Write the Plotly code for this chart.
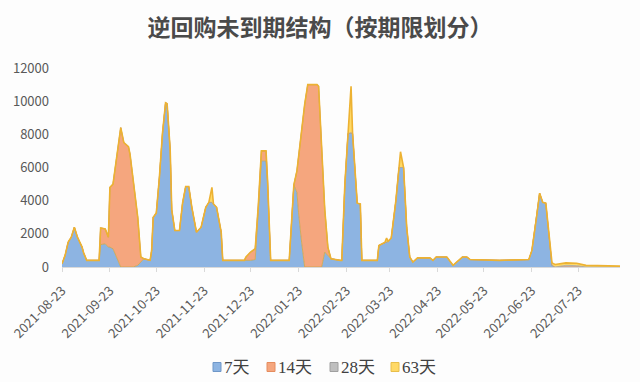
import plotly.graph_objects as go

# ---- data (亿元) ----
dates = [
    "2021-08-23", "2021-08-25", "2021-08-27", "2021-08-29", "2021-08-31", "2021-09-02",
    "2021-09-05", "2021-09-06", "2021-09-08", "2021-09-16", "2021-09-17", "2021-09-20",
    "2021-09-22", "2021-09-23", "2021-09-25", "2021-09-27", "2021-09-30", "2021-10-02",
    "2021-10-05", "2021-10-06", "2021-10-08", "2021-10-11", "2021-10-13", "2021-10-15",
    "2021-10-19", "2021-10-20", "2021-10-21", "2021-10-23", "2021-10-25", "2021-10-27",
    "2021-10-29", "2021-10-30", "2021-11-01", "2021-11-02", "2021-11-04", "2021-11-07",
    "2021-11-09", "2021-11-11", "2021-11-13", "2021-11-15", "2021-11-18", "2021-11-21",
    "2021-11-24", "2021-11-26", "2021-11-28", "2021-11-29", "2021-12-01", "2021-12-04",
    "2021-12-05", "2021-12-19", "2021-12-20", "2021-12-23", "2021-12-26", "2021-12-28",
    "2021-12-30", "2022-01-02", "2022-01-03", "2022-01-05", "2022-01-17", "2022-01-19",
    "2022-01-20", "2022-01-22", "2022-01-23", "2022-01-25", "2022-01-27", "2022-01-29",
    "2022-02-04", "2022-02-05", "2022-02-07", "2022-02-09", "2022-02-11", "2022-02-13",
    "2022-02-19", "2022-02-20", "2022-02-22", "2022-02-24", "2022-02-26", "2022-02-27",
    "2022-03-02", "2022-03-04", "2022-03-05", "2022-03-15", "2022-03-16", "2022-03-20",
    "2022-03-21", "2022-03-22", "2022-03-24", "2022-03-27", "2022-03-29", "2022-03-30",
    "2022-04-01", "2022-04-03", "2022-04-05", "2022-04-07", "2022-04-10", "2022-04-18",
    "2022-04-20", "2022-04-22", "2022-04-29", "2022-05-03", "2022-05-09", "2022-05-12",
    "2022-05-14", "2022-06-02", "2022-06-21", "2022-06-23", "2022-06-26", "2022-06-28",
    "2022-06-30", "2022-07-02", "2022-07-06", "2022-07-08", "2022-07-15", "2022-07-22",
    "2022-07-28", "2022-08-19",
]

d7 = [
    200, 700, 1500, 1800, 2400, 1800,
    1200, 850, 400, 400, 1350, 1400,
    1200, 1200, 1100, 700, 0, 0,
    0, 0, 0, 100, 300, 500,
    400, 1000, 3000, 3250, 5400, 8050,
    9900, 9850, 7050, 3450, 2200, 2200,
    3850, 4850, 4850, 3600, 2100, 2400,
    3600, 3900, 3900, 3800, 3600, 2100,
    400, 400, 400, 400, 450, 3400,
    6400, 6400, 5000, 400, 400, 3450,
    4950, 4500, 3300, 1500, 0, 0,
    0, 0, 0, 900, 700, 500,
    400, 400, 5000, 8050, 8100, 8050,
    3850, 3800, 400, 400, 1300, 1500,
    1500, 1550, 1750, 4000, 6000, 6000,
    6000, 2400, 600, 300, 550, 550,
    400, 600, 600, 100, 600, 600,
    450, 400, 450, 1000, 3000, 4450,
    3900, 3850, 100, 0, 0, 0,
    0, 0,
]

d14 = [
    0, 0, 0, 0, 0, 0,
    0, 0, 0, 0, 1000, 900,
    600, 3600, 3900, 5800, 8400, 7500,
    7250, 6800, 5400, 2900, 300, 0,
    0, 0, 0, 0, 0, 0,
    0, 0, 0, 0, 0, 0,
    0, 0, 0, 0, 0, 0,
    0, 0, 0, 0, 0, 0,
    0, 0, 200, 500, 650, 300,
    600, 600, 200, 0, 0, 0,
    0, 1300, 3350, 6950, 9800, 11000,
    11000, 10900, 7450, 2550, 500, 0,
    0, 0, 0, 0, 0, 0,
    0, 0, 0, 0, 0, 0,
    0, 0, 0, 0, 0, 0,
    0, 0, 0, 0, 0, 0,
    0, 0, 0, 0, 0, 0,
    0, 0, 0, 0, 0, 0,
    0, 0, 0, 0, 0, 0,
    0, 0,
]

d28 = [
    0, 0, 0, 0, 0, 0,
    0, 0, 0, 0, 0, 0,
    0, 0, 0, 0, 0, 0,
    0, 0, 0, 0, 0, 0,
    0, 0, 0, 0, 0, 0,
    0, 0, 0, 0, 0, 0,
    0, 0, 0, 0, 0, 0,
    0, 0, 0, 0, 0, 0,
    0, 0, 0, 0, 0, 0,
    0, 0, 0, 0, 0, 0,
    0, 0, 0, 0, 0, 0,
    0, 0, 0, 0, 0, 0,
    0, 0, 0, 0, 0, 0,
    0, 0, 0, 0, 0, 0,
    0, 0, 0, 0, 0, 0,
    0, 0, 0, 0, 0, 0,
    0, 0, 0, 0, 0, 0,
    0, 0, 0, 0, 0, 0,
    0, 0, 0, 0, 100, 80,
    0, 0,
]

d63 = [
    0, 0, 0, 0, 0, 0,
    0, 0, 0, 0, 0, 0,
    0, 0, 0, 0, 0, 0,
    0, 0, 0, 0, 0, 0,
    0, 0, 0, 0, 0, 0,
    0, 0, 0, 0, 0, 0,
    0, 0, 0, 0, 0, 0,
    0, 0, 900, 0, 0, 0,
    0, 0, 0, 0, 0, 0,
    0, 0, 0, 0, 0, 0,
    0, 0, 0, 0, 0, 0,
    0, 0, 0, 0, 0, 0,
    0, 0, 0, 0, 2800, 0,
    0, 0, 0, 0, 0, 0,
    250, 0, 0, 0, 0, 950,
    0, 0, 0, 0, 0, 0,
    0, 0, 0, 0, 0, 0,
    0, 0, 0, 0, 0, 0,
    0, 0, 150, 150, 150, 150,
    100, 50,
]

series_names = ["7天", "14天", "28天", "63天"]
tick_dates = [
    "2021-08-23", "2021-09-23", "2021-10-23", "2021-11-23", "2021-12-23", "2022-01-23",
    "2022-02-23", "2022-03-23", "2022-04-23", "2022-05-23", "2022-06-23", "2022-07-23",
]
y_ticks = [0, 2000, 4000, 6000, 8000, 10000, 12000]
y_tick_text = ["0", "2000", "4000", "6000", "8000", "10000", "12000"]

FONT = "Noto Sans CJK SC"
LEG_FONT = "Liberation Serif, Noto Sans CJK SC"

fills = ["#8DB4E2", "#F5A67E", "#BFBFBF", "#FFD966"]
lines = ["#C9A64A", "#E0884F", "#A5A5A5", "#EDB232"]
swatch_edges = ["#6F97C8", "#E58C5E", "#A0A0A0", "#E8BE4A"]

W, H = 640, 382
ML, MR, MT, MB = 62, 20, 68, 115
PW, PH = W - ML - MR, H - MT - MB

fig = go.Figure()
for name, vals, fillc, linec in zip(series_names, [d7, d14, d28, d63], fills, lines):
    fig.add_trace(go.Scatter(
        x=dates, y=vals, name=name, mode="lines",
        stackgroup="one", fillcolor=fillc,
        line=dict(color=linec, width=1.6 if name == "63天" else 0.8),
        showlegend=False,
    ))

# manual legend (square swatch + label) placed in paper coordinates
def px(xpix):
    return (xpix - ML) / PW

def py(ypix):
    return (H - MB - ypix) / PH

leg_swatch_x = [217, 271, 334, 395]
leg_y = 367
for i, name in enumerate(series_names):
    sx = leg_swatch_x[i]
    fig.add_shape(type="rect", xref="paper", yref="paper",
                  x0=px(sx - 4), x1=px(sx + 4), y0=py(leg_y + 4.5), y1=py(leg_y - 4.5),
                  fillcolor=fills[i], line=dict(color=swatch_edges[i], width=1))
    fig.add_annotation(xref="paper", yref="paper", x=px(sx + 5), y=py(leg_y),
                       xanchor="left", yanchor="middle", showarrow=False,
                       text=name, font=dict(family=LEG_FONT, size=17, color="#404040"))

fig.update_layout(
    width=W, height=H,
    margin=dict(l=ML, r=MR, t=MT, b=MB, autoexpand=False),
    paper_bgcolor="#FDFDFD", plot_bgcolor="#FDFDFD",
    title=dict(text="<b>逆回购未到期结构（按期限划分）</b>", x=0.5, xanchor="center",
               y=1 - 28 / H, yanchor="middle",
               font=dict(family=FONT, size=23, color="#4A4A4A")),
    font=dict(family=FONT, color="#595959"),
    showlegend=False,
)
fig.update_xaxes(
    type="date", range=["2021-08-23", "2022-08-19"], automargin=False,
    tickmode="array", tickvals=tick_dates, ticktext=tick_dates,
    tickangle=-45, tickfont=dict(family=FONT, size=13, color="#595959"),
    showgrid=False, showline=True, linecolor="#D9D9D9", linewidth=1,
    ticks="outside", ticklen=4, tickcolor="#D9D9D9", zeroline=False,
    ticklabelstandoff=6,
)
fig.update_yaxes(
    range=[0, 12000], tickmode="array", tickvals=y_ticks, ticktext=y_tick_text,
    automargin=False,
    tickfont=dict(family=FONT, size=13, color="#595959"),
    showgrid=False, zeroline=False, showline=False, ticks="", ticklabelstandoff=12,
)

fig.write_html("out.html", config={"displayModeBar": False},
               post_script="document.body.style.margin='0';")
